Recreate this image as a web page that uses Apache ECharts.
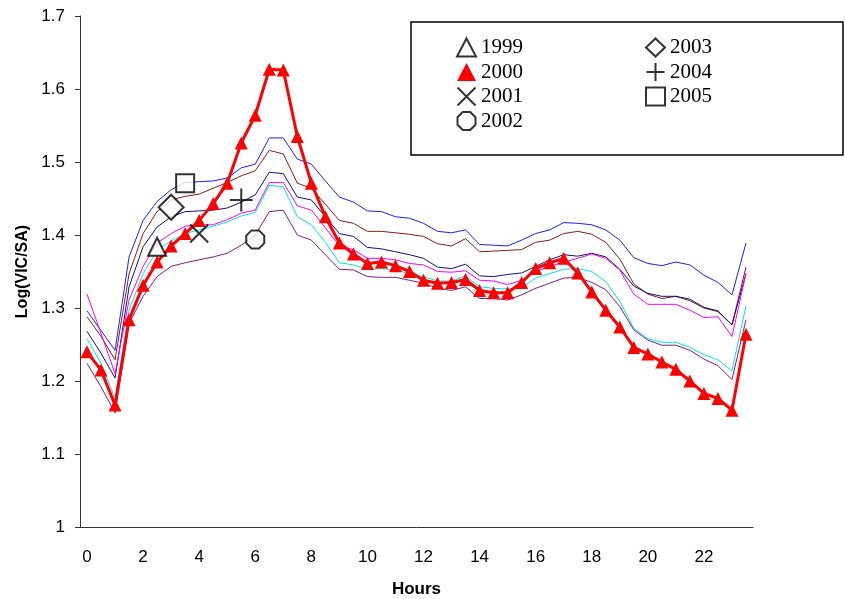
<!DOCTYPE html>
<html>
<head>
<meta charset="utf-8">
<script src="https://cdn.jsdelivr.net/npm/echarts@6/dist/echarts.min.js"></script>
<style>
html,body{margin:0;padding:0;background:#fff}
#main{width:845px;height:599px}
</style>
</head>
<body>
<div id="main"></div>
<script>
// half hour categories
var hours = ['0','0.5','1','1.5','2','2.5','3','3.5','4','4.5','5','5.5','6','6.5','7','7.5',
	'8','8.5','9','9.5','10','10.5','11','11.5','12','12.5','13','13.5','14','14.5','15','15.5',
	'16','16.5','17','17.5','18','18.5','19','19.5','20','20.5','21','21.5','22','22.5','23','23.5'];

// 2000, the red line with triangles
var y2000 = [1.240,1.215,1.167,1.284,1.331,1.363,1.385,1.402,1.420,1.443,1.471,1.526,1.564,1.627,1.626,1.535,
	1.471,1.425,1.389,1.374,1.361,1.363,1.358,1.350,1.338,1.334,1.335,1.339,1.324,1.321,1.321,1.335,
	1.354,1.362,1.368,1.348,1.322,1.297,1.274,1.246,1.237,1.226,1.216,1.200,1.183,1.176,1.160,1.264];

// thin lines
var lineBlue = [1.296,1.269,1.242,1.370,1.420,1.446,1.462,1.472,1.473,1.474,1.478,1.492,1.497,1.533,1.533,1.504,
	1.497,1.474,1.452,1.445,1.433,1.432,1.425,1.423,1.416,1.405,1.403,1.407,1.387,1.386,1.385,1.393,
	1.402,1.407,1.417,1.416,1.414,1.407,1.393,1.369,1.361,1.358,1.363,1.359,1.345,1.335,1.318,1.389];
var lineBrown = [1.288,1.261,1.229,1.347,1.402,1.432,1.448,1.453,1.456,1.464,1.472,1.481,1.488,1.516,1.511,1.471,
	1.464,1.442,1.420,1.416,1.405,1.405,1.403,1.401,1.398,1.388,1.385,1.395,1.377,1.378,1.379,1.380,
	1.390,1.393,1.402,1.405,1.401,1.390,1.367,1.333,1.319,1.313,1.316,1.310,1.300,1.295,1.277,1.356];
var lineNavy = [1.268,1.238,1.204,1.329,1.384,1.411,1.425,1.432,1.433,1.434,1.437,1.445,1.455,1.486,1.484,1.452,
	1.448,1.425,1.402,1.398,1.383,1.381,1.377,1.373,1.368,1.356,1.354,1.360,1.344,1.343,1.346,1.348,
	1.357,1.366,1.373,1.371,1.375,1.370,1.353,1.330,1.320,1.316,1.316,1.312,1.301,1.296,1.277,1.347];
var lineMagenta = [1.319,1.265,1.210,1.311,1.357,1.389,1.402,1.412,1.414,1.414,1.421,1.430,1.434,1.472,1.472,1.440,
	1.434,1.410,1.385,1.380,1.368,1.368,1.366,1.361,1.359,1.350,1.349,1.351,1.338,1.337,1.332,1.338,
	1.350,1.357,1.363,1.368,1.374,1.368,1.352,1.319,1.305,1.305,1.305,1.297,1.287,1.288,1.261,1.347];
var lineCyan = [1.258,1.224,1.176,1.297,1.347,1.379,1.392,1.402,1.407,1.412,1.418,1.426,1.431,1.468,1.466,1.425,
	1.414,1.390,1.362,1.359,1.353,1.354,1.352,1.347,1.343,1.337,1.337,1.344,1.329,1.327,1.326,1.328,
	1.341,1.347,1.353,1.354,1.350,1.336,1.309,1.272,1.258,1.253,1.253,1.246,1.236,1.229,1.214,1.303];
var linePurple = [1.224,1.192,1.156,1.279,1.316,1.343,1.357,1.362,1.366,1.370,1.375,1.386,1.400,1.432,1.434,1.400,
	1.393,1.373,1.353,1.352,1.343,1.342,1.342,1.338,1.334,1.327,1.324,1.329,1.313,1.313,1.311,1.318,
	1.327,1.334,1.341,1.342,1.335,1.325,1.302,1.270,1.256,1.249,1.249,1.242,1.230,1.221,1.202,1.284];

// single markers of the other years
var markerYears  = ['1999','2001','2002','2003','2004','2005'];
var markerHours  = ['2.5','4','6','3','5.5','3.5'];
var markerValues = [1.384,1.402,1.394,1.438,1.448,1.471];

var yTicks = [1, 1.7, 0.1]; // min, max, step

var SANS = 'Liberation Sans, Arial, sans-serif';
var SERIF = 'Liberation Serif, Times New Roman, serif';

var symbols = {
	'1999': 'triangle',
	'2001': 'path://M0,0L10,10M10,0L0,10',
	'2002': 'path://M2.93,0L7.07,0L10,2.93L10,7.07L7.07,10L2.93,10L0,7.07L0,2.93Z',
	'2003': 'diamond',
	'2004': 'path://M5,0L5,10M0,5L10,5',
	'2005': 'rect'
};
var symSize = {'1999':18,'2001':18,'2002':18,'2003':25,'2004':23,'2005':18};

var myChart = echarts.init(document.getElementById('main'));

var series = [];
var thin = [
	{name:'l1', data:lineBlue, color:'#1f1fff'},
	{name:'l2', data:lineBrown, color:'#8b1a1a'},
	{name:'l3', data:lineNavy, color:'#10107a'},
	{name:'l4', data:lineMagenta, color:'#ff00ff'},
	{name:'l5', data:lineCyan, color:'#00e5ee'},
	{name:'l6', data:linePurple, color:'#7f1f86'}
];
for (var i = 0; i < thin.length; i++) {
	series.push({
		name: thin[i].name,
		type: 'line',
		data: thin[i].data,
		symbol: 'none',
		silent: true,
		lineStyle: {width: 1, color: thin[i].color},
		itemStyle: {color: thin[i].color}
	});
}
series.push({
	name: '2000',
	type: 'line',
	data: y2000,
	symbol: 'triangle',
	symbolSize: 13,
	showAllSymbol: true,
	lineStyle: {width: 3, color: '#ff0000'},
	itemStyle: {color: '#ff0000'},
	z: 5
});
for (var j = 0; j < markerYears.length; j++) {
	var yr = markerYears[j];
	series.push({
		name: yr,
		type: 'scatter',
		data: [[markerHours[j], markerValues[j]]],
		symbol: symbols[yr],
		symbolSize: symSize[yr],
		itemStyle: {color: '#fff', borderColor: '#000', borderWidth: 2},
		z: 6
	});
}

function legendItem(yr) {
	if (yr === '2000') {
		return {name: '2000', icon: 'triangle', itemStyle: {color: '#ff0000', borderWidth: 0}};
	}
	return {name: yr, icon: symbols[yr], itemStyle: {color: '#fff', borderColor: '#000', borderWidth: 2}};
}

var legendCommon = {
	orient: 'vertical',
	itemWidth: 19,
	itemHeight: 18,
	itemGap: 3.5,
	selectedMode: false,
	textStyle: {fontFamily: SERIF, fontSize: 21, color: '#000'}
};

var option = {
	animation: false,
	backgroundColor: '#fff',
	grid: {left: 80, right: 92, top: 16, bottom: 72, containLabel: false, outerBoundsMode: 'none'},
	legend: [
		echarts.util.merge({left: 451, top: 32, data: ['1999','2000','2001','2002'].map(legendItem)}, legendCommon, false),
		echarts.util.merge({left: 640, top: 32, data: ['2003','2004','2005'].map(legendItem)}, legendCommon, false)
	],
	graphic: [{
		type: 'rect',
		shape: {x: 411, y: 22, width: 432, height: 133},
		style: {fill: 'none', stroke: '#000', lineWidth: 1.5},
		z: -1
	}],
	xAxis: {
		type: 'category',
		data: hours,
		boundaryGap: true,
		name: 'Hours',
		nameLocation: 'middle',
		nameGap: 54,
		nameTextStyle: {fontFamily: SANS, fontSize: 17, fontWeight: 'bold', color: '#000'},
		axisLine: {lineStyle: {color: '#333', width: 1}},
		axisTick: {interval: 0, length: 5, lineStyle: {color: '#333'}},
		axisLabel: {interval: 3, margin: 22, fontFamily: SANS, fontSize: 17, color: '#000'},
		splitLine: {show: false}
	},
	yAxis: {
		type: 'value',
		min: yTicks[0],
		max: yTicks[1],
		interval: yTicks[2],
		name: 'Log(VIC/SA)',
		nameLocation: 'middle',
		nameGap: 48,
		nameTextStyle: {fontFamily: SANS, fontSize: 16, fontWeight: 'bold', color: '#000'},
		axisLine: {show: true, lineStyle: {color: '#333', width: 1}},
		axisTick: {show: true, length: 5, lineStyle: {color: '#333'}},
		axisLabel: {margin: 15, fontFamily: SANS, fontSize: 17, color: '#000'},
		splitLine: {show: false}
	},
	series: series
};

myChart.setOption(option);
</script>
</body>
</html>
